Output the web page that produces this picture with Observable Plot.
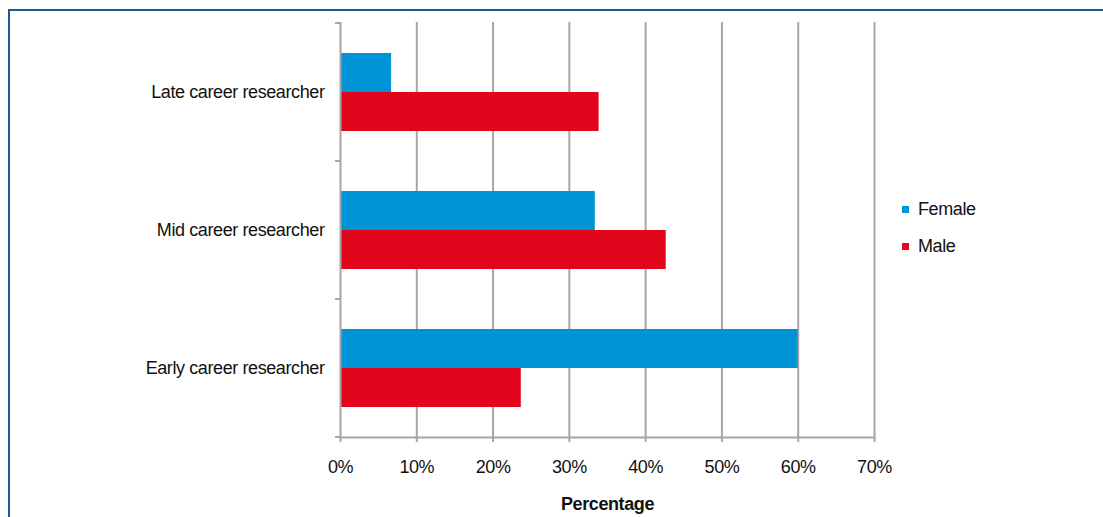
<!DOCTYPE html>
<html>
<head>
<meta charset="utf-8">
<script src="https://cdn.jsdelivr.net/npm/d3@7"></script>
<script src="https://cdn.jsdelivr.net/npm/@observablehq/plot@0.6"></script>
<style>
  html, body { margin: 0; padding: 0; background: #fff; overflow: hidden; }
  #wrap { position: relative; width: 1103px; height: 517px; font-family: "Liberation Sans Narrow", "Arial Narrow", "Liberation Sans", sans-serif; }
  #border { position: absolute; left: 8px; top: 9px; width: 1200px; height: 600px; border-left: 2px solid #1d5a94; border-top: 2px solid #1d5a94; box-sizing: border-box; }
  #chart { position: absolute; left: 0; top: 0; }
  #legend { position: absolute; left: 902px; top: 196px; font-size: 18px; letter-spacing: -0.4px; color: #111; }
  #legend .item { display: flex; align-items: center; height: 26px; margin-bottom: 11px; }
  #legend .sw { width: 7px; height: 7px; margin-right: 9px; }
  svg text { letter-spacing: -0.4px; }
  g[aria-label="x-axis label"] text { font-weight: bold; }
</style>
</head>
<body>
<div id="wrap">
  <div id="border"></div>
  <div id="chart"></div>
  <div id="legend"></div>
</div>
<script>
const categories = ["Late career researcher", "Mid career researcher", "Early career researcher"];
const series = ["Female", "Male"];
const female = [6.7, 33.4, 60.0];
const male = [33.9, 42.7, 23.7];
const xTicks = [0, 10, 20, 30, 40, 50, 60, 70];
const colors = ["#0093d6", "#e2061d"];

const rows = categories.flatMap((c, i) => [
  {category: c, sex: "Female", value: female[i]},
  {category: c, sex: "Male", value: male[i]}
]);

const grid = "#a6a6a6";
const plot = Plot.plot({
  width: 1103,
  height: 517,
  marginLeft: 340,
  marginRight: 229,
  marginTop: 22,
  marginBottom: 80,
  style: {fontFamily: '"Liberation Sans Narrow", "Arial Narrow", "Liberation Sans", sans-serif', fontSize: "18px", color: "#111", background: "transparent", overflow: "visible"},
  x: {domain: [0, 70], ticks: xTicks},
  y: {domain: categories, padding: 0},
  marks: [
    Plot.ruleX(xTicks.slice(1), {stroke: grid, strokeWidth: 2}),
    Plot.barX(rows.filter(d => d.sex === "Female"), {x: "value", y: "category", fill: colors[0], insetTop: 30, insetBottom: 69}),
    Plot.barX(rows.filter(d => d.sex === "Male"), {x: "value", y: "category", fill: colors[1], insetTop: 69, insetBottom: 30}),
    Plot.ruleX([0], {stroke: grid, strokeWidth: 2}),
    Plot.frame({anchor: "bottom", stroke: grid, strokeWidth: 2}),
    Plot.axisY({tickSize: 0, tickPadding: 16, label: null, fill: "#111"}),
    Plot.axisX({ticks: xTicks, tickSize: 5, stroke: grid, strokeWidth: 2, tickPadding: 18, tickFormat: d => d + "%", label: "Percentage", labelAnchor: "center", labelArrow: "none", labelOffset: 72, fill: "#111"})
  ]
});

document.getElementById("chart").appendChild(plot);

// category boundary ticks on the y axis, from the plot's own scales
const ys = plot.scale("y");
const xs = plot.scale("x");
const x0 = xs.apply(0);
const svg = d3.select(plot);
const bounds = categories.map(c => ys.apply(c)).concat([ys.apply(categories[categories.length - 1]) + ys.step]);
svg.append("g").selectAll("line").data(bounds).join("line")
  .attr("x1", x0 - 5).attr("x2", x0)
  .attr("y1", d => d).attr("y2", d => d)
  .attr("stroke", grid).attr("stroke-width", 2);

const legend = d3.select("#legend");
series.forEach((s, i) => {
  const item = legend.append("div").attr("class", "item");
  item.append("div").attr("class", "sw").style("background", colors[i]);
  item.append("span").text(s);
});
</script>
</body>
</html>
